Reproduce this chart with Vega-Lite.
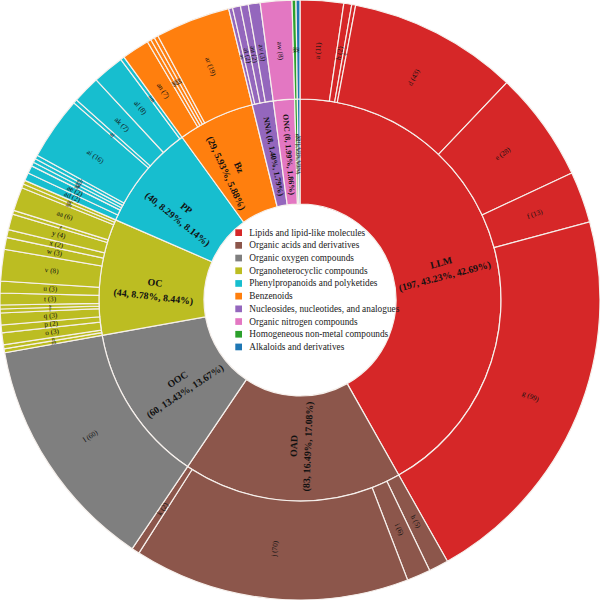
{
  "$schema": "https://vega.github.io/schema/vega-lite/v6.json",
  "width": 600,
  "height": 600,
  "autosize": {"type": "fit", "contains": "padding"},
  "padding": 0,
  "background": "white",
  "config": {"view": {"stroke": null}, "font": "Liberation Serif"},
  "datasets": {
    "inner": [
      {"ord": 1, "cat": "Lipids and lipid-like molecules", "n": 197, "label": ["LLM", "(197, 43.23%, 42.69%)"]},
      {"ord": 2, "cat": "Organic acids and derivatives", "n": 83, "label": ["OAD", "(83, 16.49%, 17.08%)"]},
      {"ord": 3, "cat": "Organic oxygen compounds", "n": 60, "label": ["OOC", "(60, 13.43%, 13.67%)"]},
      {"ord": 4, "cat": "Organoheterocyclic compounds", "n": 44, "label": ["OC", "(44, 8.78%, 8.44%)"]},
      {"ord": 5, "cat": "Phenylpropanoids and polyketides", "n": 40, "label": ["PP", "(40, 8.29%, 8.14%)"]},
      {"ord": 6, "cat": "Benzenoids", "n": 29, "label": ["Bz", "(29, 5.93%, 5.88%)"]},
      {"ord": 7, "cat": "Nucleosides, nucleotides, and analogues", "n": 8, "label": "NNA (8, 1.40%, 1.79%)"},
      {"ord": 8, "cat": "Organic nitrogen compounds", "n": 8, "label": "ONC (8, 1.99%, 1.86%)"},
      {"ord": 9, "cat": "Homogeneous non-metal compounds", "n": 1, "label": "HNC (1, 0.22%, 0.21%)"},
      {"ord": 10, "cat": "Alkaloids and derivatives", "n": 1, "label": "AD (1, 0.22%, 0.23%)"}
    ],
    "outer": [
      {"ord": 1, "cat": "Lipids and lipid-like molecules", "sub": "a", "n": 11, "label": "a (11)"},
      {"ord": 2, "cat": "Lipids and lipid-like molecules", "sub": "b", "n": 2, "label": "b (2)"},
      {"ord": 3, "cat": "Lipids and lipid-like molecules", "sub": "c", "n": 1, "label": "c"},
      {"ord": 4, "cat": "Lipids and lipid-like molecules", "sub": "d", "n": 43, "label": "d (43)"},
      {"ord": 5, "cat": "Lipids and lipid-like molecules", "sub": "e", "n": 28, "label": "e (28)"},
      {"ord": 6, "cat": "Lipids and lipid-like molecules", "sub": "f", "n": 13, "label": "f (13)"},
      {"ord": 7, "cat": "Lipids and lipid-like molecules", "sub": "g", "n": 99, "label": "g (99)"},
      {"ord": 8, "cat": "Organic acids and derivatives", "sub": "h", "n": 5, "label": "h (5)"},
      {"ord": 9, "cat": "Organic acids and derivatives", "sub": "i", "n": 6, "label": "i (6)"},
      {"ord": 10, "cat": "Organic acids and derivatives", "sub": "j", "n": 70, "label": "j (70)"},
      {"ord": 11, "cat": "Organic acids and derivatives", "sub": "k", "n": 2, "label": "k (2)"},
      {"ord": 12, "cat": "Organic oxygen compounds", "sub": "l", "n": 60, "label": "l (60)"},
      {"ord": 13, "cat": "Organoheterocyclic compounds", "sub": "m", "n": 1, "label": "m"},
      {"ord": 14, "cat": "Organoheterocyclic compounds", "sub": "n", "n": 1, "label": "n"},
      {"ord": 15, "cat": "Organoheterocyclic compounds", "sub": "o", "n": 3, "label": "o (3)"},
      {"ord": 16, "cat": "Organoheterocyclic compounds", "sub": "p", "n": 2, "label": "p (2)"},
      {"ord": 17, "cat": "Organoheterocyclic compounds", "sub": "q", "n": 3, "label": "q (3)"},
      {"ord": 18, "cat": "Organoheterocyclic compounds", "sub": "r", "n": 1, "label": "r"},
      {"ord": 19, "cat": "Organoheterocyclic compounds", "sub": "s", "n": 1, "label": "s"},
      {"ord": 20, "cat": "Organoheterocyclic compounds", "sub": "t", "n": 3, "label": "t (3)"},
      {"ord": 21, "cat": "Organoheterocyclic compounds", "sub": "u", "n": 3, "label": "u (3)"},
      {"ord": 22, "cat": "Organoheterocyclic compounds", "sub": "v", "n": 8, "label": "v (8)"},
      {"ord": 23, "cat": "Organoheterocyclic compounds", "sub": "w", "n": 3, "label": "w (3)"},
      {"ord": 24, "cat": "Organoheterocyclic compounds", "sub": "x", "n": 2, "label": "x (2)"},
      {"ord": 25, "cat": "Organoheterocyclic compounds", "sub": "y", "n": 4, "label": "y (4)"},
      {"ord": 26, "cat": "Organoheterocyclic compounds", "sub": "z", "n": 1, "label": "z"},
      {"ord": 27, "cat": "Organoheterocyclic compounds", "sub": "aa", "n": 6, "label": "aa (6)"},
      {"ord": 28, "cat": "Organoheterocyclic compounds", "sub": "ab", "n": 1, "label": "ab"},
      {"ord": 29, "cat": "Organoheterocyclic compounds", "sub": "ac", "n": 1, "label": "ac"},
      {"ord": 30, "cat": "Phenylpropanoids and polyketides", "sub": "ad", "n": 2, "label": "ad (2)"},
      {"ord": 31, "cat": "Phenylpropanoids and polyketides", "sub": "ae", "n": 2, "label": "ae (2)"},
      {"ord": 32, "cat": "Phenylpropanoids and polyketides", "sub": "af", "n": 1, "label": "af"},
      {"ord": 33, "cat": "Phenylpropanoids and polyketides", "sub": "ag", "n": 1, "label": "ag"},
      {"ord": 34, "cat": "Phenylpropanoids and polyketides", "sub": "ah", "n": 1, "label": "ah"},
      {"ord": 35, "cat": "Phenylpropanoids and polyketides", "sub": "ai", "n": 16, "label": "ai (16)"},
      {"ord": 36, "cat": "Phenylpropanoids and polyketides", "sub": "aj", "n": 1, "label": "aj"},
      {"ord": 37, "cat": "Phenylpropanoids and polyketides", "sub": "ak", "n": 7, "label": "ak (7)"},
      {"ord": 38, "cat": "Phenylpropanoids and polyketides", "sub": "al", "n": 8, "label": "al (8)"},
      {"ord": 39, "cat": "Phenylpropanoids and polyketides", "sub": "am", "n": 1, "label": "am"},
      {"ord": 40, "cat": "Benzenoids", "sub": "an", "n": 7, "label": "an (7)"},
      {"ord": 41, "cat": "Benzenoids", "sub": "ao", "n": 1, "label": "ao"},
      {"ord": 42, "cat": "Benzenoids", "sub": "ap", "n": 1, "label": "ap"},
      {"ord": 43, "cat": "Benzenoids", "sub": "aq", "n": 1, "label": "aq"},
      {"ord": 44, "cat": "Benzenoids", "sub": "ar", "n": 19, "label": "ar (19)"},
      {"ord": 45, "cat": "Nucleosides, nucleotides, and analogues", "sub": "as", "n": 1, "label": "as"},
      {"ord": 46, "cat": "Nucleosides, nucleotides, and analogues", "sub": "at", "n": 2, "label": "at (2)"},
      {"ord": 47, "cat": "Nucleosides, nucleotides, and analogues", "sub": "au", "n": 2, "label": "au (2)"},
      {"ord": 48, "cat": "Nucleosides, nucleotides, and analogues", "sub": "av", "n": 3, "label": "av (3)"},
      {"ord": 49, "cat": "Organic nitrogen compounds", "sub": "aw", "n": 8, "label": "aw (8)"},
      {"ord": 50, "cat": "Homogeneous non-metal compounds", "sub": "ax", "n": 1, "label": "ax"},
      {"ord": 51, "cat": "Alkaloids and derivatives", "sub": "ay", "n": 1, "label": "ay"}
    ]
  },
  "layer": [
    {
      "data": {"name": "inner"},
      "transform": [
        {"joinaggregate": [{"op": "sum", "field": "n", "as": "total"}]},
        {"window": [{"op": "sum", "field": "n", "as": "cum"}], "sort": [{"field": "ord", "order": "ascending"}], "frame": [null, 0]},
        {"calculate": "(datum.cum - datum.n / 2) / datum.total * 360", "as": "mid"},
        {"calculate": "datum.mid < 180 ? datum.mid - 90 : datum.mid - 270", "as": "rot"}
      ],
      "encoding": {
        "theta": {"field": "n", "type": "quantitative", "stack": true},
        "order": {"field": "ord", "type": "quantitative", "sort": "ascending"}
      },
      "layer": [
        {
          "mark": {"type": "arc", "innerRadius": 96, "outerRadius": 201, "stroke": "#f6f0ec", "strokeWidth": 1.2},
          "encoding": {
            "color": {
              "field": "cat", "type": "nominal",
              "scale": {
                "domain": ["Lipids and lipid-like molecules", "Organic acids and derivatives", "Organic oxygen compounds", "Organoheterocyclic compounds", "Phenylpropanoids and polyketides", "Benzenoids", "Nucleosides, nucleotides, and analogues", "Organic nitrogen compounds", "Homogeneous non-metal compounds", "Alkaloids and derivatives"],
                "range": ["#d62728", "#8c564b", "#7f7f7f", "#bcbd22", "#17becf", "#ff7f0e", "#9467bd", "#e377c2", "#2ca02c", "#1f77b4"]
              },
              "legend": {
                "title": null, "orient": "none", "legendX": 231, "legendY": 225,
                "symbolType": "square", "symbolSize": 45, "symbolStrokeWidth": 0,
                "labelFont": "Liberation Serif", "labelFontSize": 9.3, "labelColor": "#222222",
                "labelLimit": 300, "rowPadding": 2.7, "labelOffset": 6
              }
            }
          }
        },
        {
          "mark": {"type": "text", "radius": 146, "fontWeight": "bold", "font": "Liberation Serif", "color": "#111111", "lineHeight": 14},
          "encoding": {
            "detail": {"field": "cat", "type": "nominal"},
            "text": {"field": "label"},
            "angle": {"field": "rot", "type": "quantitative", "scale": null},
            "size": {"condition": [{"test": "datum.n < 2", "value": 4}, {"test": "datum.n < 10", "value": 8}], "value": 9.8}
          }
        }
      ]
    },
    {
      "data": {"name": "outer"},
      "transform": [
        {"joinaggregate": [{"op": "sum", "field": "n", "as": "total"}]},
        {"window": [{"op": "sum", "field": "n", "as": "cum"}], "sort": [{"field": "ord", "order": "ascending"}], "frame": [null, 0]},
        {"calculate": "(datum.cum - datum.n / 2) / datum.total * 360", "as": "mid"},
        {"calculate": "datum.mid < 180 ? datum.mid - 90 : datum.mid - 270", "as": "rot"}
      ],
      "encoding": {
        "theta": {"field": "n", "type": "quantitative", "stack": true},
        "order": {"field": "ord", "type": "quantitative", "sort": "ascending"}
      },
      "layer": [
        {
          "mark": {"type": "arc", "innerRadius": 201, "outerRadius": 300, "stroke": "#f6f0ec", "strokeWidth": 1.2},
          "encoding": {
            "color": {"field": "cat", "type": "nominal"}
          }
        },
        {
          "mark": {"type": "text", "radius": 250, "font": "Liberation Serif", "color": "#111111"},
          "encoding": {
            "detail": {"field": "sub", "type": "nominal"},
            "text": {"field": "label"},
            "angle": {"field": "rot", "type": "quantitative", "scale": null},
            "size": {"condition": {"test": "datum.n < 2", "value": 6}, "value": 7.2}
          }
        }
      ]
    }
  ]
}
